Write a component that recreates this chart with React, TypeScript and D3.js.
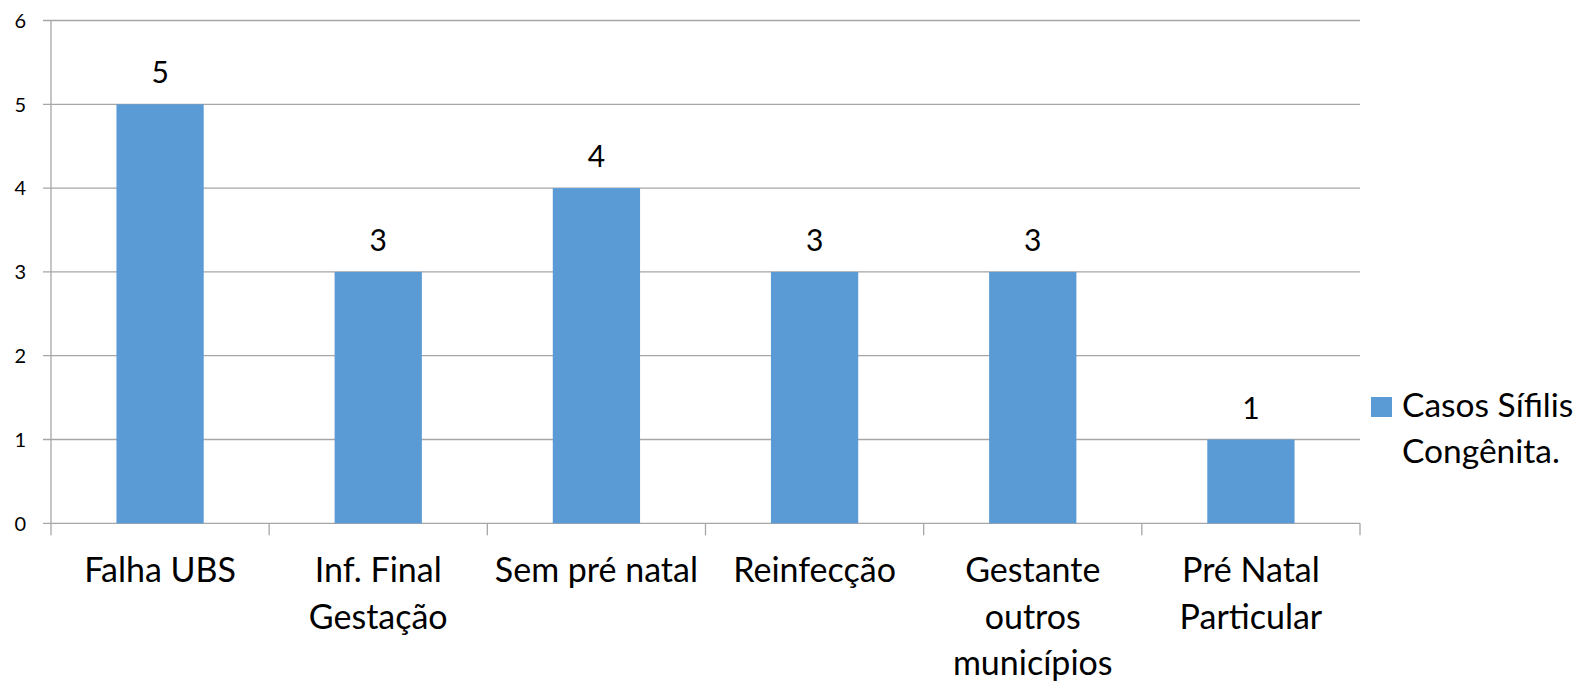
import * as d3 from "d3";

// rótulos das categorias (quebra de linha com \n)
const categories = [
  "Falha UBS",
  "Inf. Final\nGestação",
  "Sem pré natal",
  "Reinfecção",
  "Gestante\noutros\nmunicípios",
  "Pré Natal\nParticular",
];
const casos = [5, 3, 4, 3, 3, 1];
const yTicks = [0, 1, 2, 3, 4, 5, 6];
const seriesName = ["Casos Sífilis", "Congênita."];

const W = 1585;
const H = 681;
const FONT = "Lato, 'Open Sans', sans-serif";

export default function App() {
  const left = 51;
  const right = 1360;
  const top = 20.5;
  const bottom = 523.3;

  const x = d3.scaleBand<string>().domain(categories).range([left, right]).paddingInner(0.6).paddingOuter(0.3);
  const band = d3.scaleBand<string>().domain(categories).range([left, right]);
  const y = d3.scaleLinear().domain([0, 6]).range([bottom, top]);
  const color = "#5B9BD5";
  const grid = "#A6A6A6";

  return (
    <div style={{ position: "absolute", left: 0, top: 0 }}>
      <svg width={W} height={H} style={{ display: "block", fontFamily: FONT }}>
        <rect width={W} height={H} fill="#fff" />
        {/* linhas de grade */}
        {yTicks.map((t) => (
          <g key={t}>
            <line x1={left - 8} x2={right} y1={y(t)} y2={y(t)} stroke={grid} strokeWidth={1.3} />
            <text x={26} y={y(t)} dy="0.36em" textAnchor="end" fontSize={20} fill="#000">
              {t}
            </text>
          </g>
        ))}
        {/* eixo y */}
        <line x1={left} x2={left} y1={top} y2={bottom + 12} stroke={grid} strokeWidth={1.3} />
        {/* marcas do eixo x */}
        {categories.map((c) => (
          <line key={c} x1={band(c)! + band.bandwidth()} x2={band(c)! + band.bandwidth()} y1={bottom} y2={bottom + 12} stroke={grid} strokeWidth={1.3} />
        ))}
        {/* barras */}
        {categories.map((c, i) => (
          <g key={c}>
            <rect x={x(c)} y={y(casos[i])} width={x.bandwidth()} height={bottom - y(casos[i])} fill={color} />
            <text x={x(c)! + x.bandwidth() / 2} y={y(casos[i]) - 21} textAnchor="middle" fontSize={30} fill="#000">
              {casos[i]}
            </text>
          </g>
        ))}
        {/* rótulos das categorias */}
        {categories.map((c) => (
          <text key={c} x={band(c)! + band.bandwidth() / 2} y={582} textAnchor="middle" fontSize={34} fill="#000">
            {c.split("\n").map((ln, j) => (
              <tspan key={j} x={band(c)! + band.bandwidth() / 2} dy={j === 0 ? 0 : 46.5}>
                {ln}
              </tspan>
            ))}
          </text>
        ))}
        {/* legenda */}
        <rect x={1371} y={397} width={21} height={20} fill={color} />
        <text x={1402} y={417} fontSize={33.5} fill="#000">
          {seriesName.map((ln, j) => (
            <tspan key={j} x={1402} dy={j === 0 ? 0 : 46}>
              {ln}
            </tspan>
          ))}
        </text>
      </svg>
    </div>
  );
}
